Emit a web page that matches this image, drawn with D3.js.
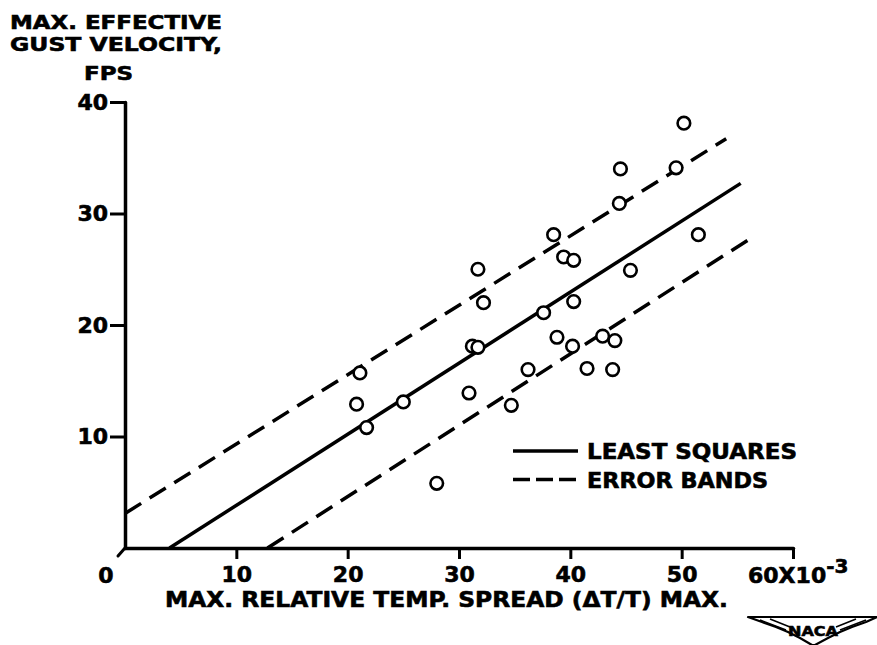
<!DOCTYPE html>
<head>
    <meta charset="utf-8">
    <title>Max. effective gust velocity vs max. relative temp. spread</title>
    <style>
        body { margin: 0; background: #fff; }
        text { font-family: "DejaVu Sans", sans-serif; font-weight: bold; fill: #000; stroke: #000; stroke-width: 0.6px; }
    </style>
</head>
<body>
<svg width="877" height="645"></svg>

<script src="https://d3js.org/d3.v7.min.js"></script>
<script>

    //data (x in units of 10^-3, y in fps)
    var spreadX = [20.8, 21.1, 21.7, 25.0, 28.0, 30.9, 31.2, 31.7, 31.7, 32.2,
                   34.7, 36.2, 37.6, 38.5, 38.8, 39.4, 40.3, 40.2, 40.3, 41.5,
                   42.9, 43.8, 44.0, 44.5, 44.4, 45.4, 49.5, 50.2, 51.5];
    var gustY   = [12.9, 15.7, 10.8, 13.1,  5.8, 13.9, 18.1, 18.0, 25.0, 22.0,
                   12.8, 16.0, 21.1, 28.1, 18.9, 26.1, 25.8, 18.1, 22.1, 16.1,
                   19.0, 16.0, 18.6, 34.0, 30.9, 24.9, 34.1, 38.1, 28.1];

    //fitted lines, end points
    var lsqX = [4.0, 55.3],   lsqY = [0, 32.7];
    var upperX = [0, 54.0],   upperY = [3.1, 36.7];
    var lowerX = [12.8, 56.4], lowerY = [0, 27.9];

    var xTicks = [10, 20, 30, 40, 50, 60];
    var yTicks = [10, 20, 30, 40];
    var yTitleLines = ["MAX. EFFECTIVE", "GUST VELOCITY,", "FPS"];
    var legendLabels = ["LEAST SQUARES", "ERROR BANDS"];

    var svg = d3.select("svg");

    //scales
    var x = d3.scaleLinear().domain([0, 60]).range([125, 793]);
    var y = d3.scaleLinear().domain([0, 40]).range([548, 102]);

    //y axis title, one text block
    var yTitle = svg.append("text").attr("font-size", 19);
    yTitle.append("tspan").attr("x", 10).attr("y", 29)
        .attr("textLength", 212).attr("lengthAdjust", "spacingAndGlyphs").text(yTitleLines[0]);
    yTitle.append("tspan").attr("x", 10).attr("y", 51)
        .attr("textLength", 212).attr("lengthAdjust", "spacingAndGlyphs").text(yTitleLines[1]);
    yTitle.append("tspan").attr("x", 84).attr("y", 80)
        .attr("textLength", 49).attr("lengthAdjust", "spacingAndGlyphs").text(yTitleLines[2]);

    //axes
    var xAxis = svg.append("g")
        .attr("transform", "translate(0," + y(0) + ")")
        .call(d3.axisBottom(x).tickValues(xTicks).tickSize(11).tickSizeOuter(0).tickPadding(7)
            .tickFormat(d => d == 60 ? "" : d));
    var yAxis = svg.append("g")
        .attr("transform", "translate(" + x(0) + ",0)")
        .call(d3.axisLeft(y).tickValues(yTicks).tickSize(15).tickSizeOuter(0).tickPadding(2));

    [xAxis, yAxis].forEach(g => {
        g.select(".domain").attr("stroke", "#000").attr("stroke-width", 3.5).attr("stroke-linecap", "round");
        g.selectAll(".tick line").attr("stroke", "#000").attr("stroke-width", 3);
        g.selectAll(".tick text").attr("font-size", 22).attr("font-family", "DejaVu Sans").attr("font-weight", "bold");
    });

    //origin mark and label
    svg.append("line").attr("x1", x(0)).attr("y1", y(0)).attr("x2", x(0) - 7).attr("y2", y(0) + 8)
        .attr("stroke", "#000").attr("stroke-width", 3).attr("stroke-linecap", "round");
    svg.append("text").attr("x", 106).attr("y", 583).attr("text-anchor", "middle").attr("font-size", 22).text("0");

    //60 x 10^-3 label
    var endLbl = svg.append("text").attr("x", 748).attr("y", 583).attr("font-size", 22);
    endLbl.append("tspan").text("60X10");
    endLbl.append("tspan").attr("dy", -10).attr("font-size", 20).text("-3");

    //x axis title
    svg.append("text").attr("x", 165).attr("y", 607).attr("font-size", 22)
        .attr("textLength", 563).attr("lengthAdjust", "spacingAndGlyphs")
        .text("MAX. RELATIVE TEMP. SPREAD (\u0394T/T) MAX.");

    //lines
    var line = d3.line().x(d => x(d[0])).y(d => y(d[1]));
    function seg(xs, ys) { return xs.map((v, i) => [v, ys[i]]); }

    svg.append("path").datum(seg(lsqX, lsqY)).attr("d", line)
        .attr("fill", "none").attr("stroke", "#000").attr("stroke-width", 3.5);
    [seg(upperX, upperY), seg(lowerX, lowerY)].forEach(s => {
        svg.append("path").datum(s).attr("d", line)
            .attr("fill", "none").attr("stroke", "#000").attr("stroke-width", 3.5)
            .attr("stroke-dasharray", "19,10");
    });

    //points
    svg.append("g").selectAll("circle")
        .data(spreadX.map((v, i) => [v, gustY[i]]))
        .enter().append("circle")
            .attr("cx", d => x(d[0]))
            .attr("cy", d => y(d[1]))
            .attr("r", 6.3)
            .attr("fill", "#fff")
            .attr("stroke", "#000")
            .attr("stroke-width", 2.6);

    //legend
    var leg = svg.append("g");
    legendLabels.forEach((lbl, i) => {
        var ly = 451 + i * 28.5;
        leg.append("line").attr("x1", 513).attr("x2", 578).attr("y1", ly).attr("y2", ly)
            .attr("stroke", "#000").attr("stroke-width", 3.5)
            .attr("stroke-dasharray", i ? "17,6" : null);
        leg.append("text").attr("x", 587).attr("y", ly + 8).attr("font-size", 21)
            .attr("textLength", i ? 181 : 210).attr("lengthAdjust", "spacingAndGlyphs").text(lbl);
    });

    //NACA wings emblem
    var logo = svg.append("g");
    logo.append("path")
        .attr("d", "M748,617 L877,617 L866,622 L852,627 L840,632 L828,638 L815,645 L812,645 L800,638 L788,632 L776,627 L762,622 Z")
        .attr("fill", "#fff").attr("stroke", "#000").attr("stroke-width", 2.2).attr("stroke-linejoin", "round");
    logo.append("path")
        .attr("d", "M760,620 L786,630 M866,620 L840,630 M770,619 L790,627 M856,619 L836,627")
        .attr("fill", "none").attr("stroke", "#000").attr("stroke-width", 1.5);
    logo.append("text").attr("x", 813).attr("y", 636).attr("text-anchor", "middle")
        .attr("font-size", 14).attr("font-weight", "normal").attr("stroke-width", 0.2)
        .attr("textLength", 50).attr("lengthAdjust", "spacingAndGlyphs").text("NACA");

</script>
</body>
